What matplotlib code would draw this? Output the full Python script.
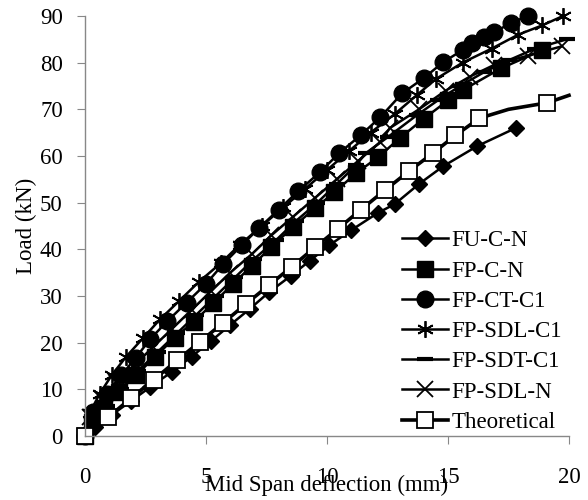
import matplotlib
matplotlib.use("Agg")
import matplotlib.pyplot as plt

# ---- data ----
fucn_x = [0, 0.4, 1.1, 1.9, 2.7, 3.6, 4.4, 5.2, 6.0, 6.8, 7.6, 8.5, 9.3, 10.1, 11.0, 12.1, 12.8, 13.8, 14.8, 16.2, 17.8]
fucn_y = [0, 2, 4.5, 7.5, 10.5, 13.8, 17, 20.3, 23.8, 27.2, 30.8, 34.3, 37.6, 40.9, 44.1, 47.8, 49.7, 54, 57.8, 62.1, 66]

fpcn_x = [0, 0.3, 0.8, 1.4, 2.1, 2.9, 3.7, 4.5, 5.3, 6.1, 6.9, 7.7, 8.6, 9.5, 10.3, 11.2, 12.1, 13.0, 14.0, 15.0, 15.6, 17.2, 18.9]
fpcn_y = [0, 3, 6, 9.5, 13, 17, 21, 24.5, 28.5, 32.5, 36.5, 40.5, 44.8, 48.8, 52.2, 56.3, 59.7, 63.8, 68, 71.9, 74.1, 78.8, 82.7]

fpct_x = [0, 0.35, 0.9, 1.5, 2.1, 2.7, 3.4, 4.2, 5.0, 5.7, 6.5, 7.2, 8.0, 8.8, 9.7, 10.5, 11.4, 12.2, 13.1, 14.0, 14.8, 15.6, 16.0, 16.5, 16.9, 17.6, 18.3]
fpct_y = [0, 5.2, 9.0, 13.0, 16.8, 20.8, 24.6, 28.6, 32.6, 36.8, 41.0, 44.6, 48.5, 52.4, 56.5, 60.6, 64.5, 68.3, 73.4, 76.7, 80.1, 82.7, 84.2, 85.4, 86.5, 88.5, 90.0]

sdlc1_x = [0, 0.2, 0.6, 1.1, 1.7, 2.4, 3.1, 3.9, 4.7, 5.6, 6.4, 7.3, 8.2, 9.1, 10.0, 10.9, 11.8, 12.8, 13.7, 14.5, 15.6, 16.8, 17.9, 18.9, 19.75]
sdlc1_y = [0, 5, 9, 13, 17, 21, 25, 29, 33, 37, 41, 45, 49, 53, 57, 61, 65, 69, 73, 76.5, 80, 83, 86, 88, 90]

sdtc1_x = [0, 0.3, 0.9, 1.5, 2.2, 3.0, 3.8, 4.6, 5.4, 6.2, 7.0, 7.9, 8.7, 9.6, 10.4, 11.2, 11.6, 12.5, 13.7, 14.6, 15.5, 16.5, 17.5, 18.6, 19.9]
sdtc1_y = [0, 3, 6.5, 10, 14, 18, 22, 26, 30, 34, 38, 42, 46, 50, 54, 58, 60.6, 64, 68.7, 72, 75, 78, 80.5, 83, 85]

sdln_x = [0, 0.2, 0.7, 1.3, 2.0, 2.8, 3.6, 4.4, 5.2, 6.0, 6.9, 7.7, 8.6, 9.5, 10.4, 11.3, 12.2, 12.6, 13.8, 14.9, 15.9, 16.9, 18.3, 19.7]
sdln_y = [0, 4, 8, 11.5, 15, 19, 23, 27, 31, 35, 39, 43, 47, 51, 55, 59, 63, 66, 70, 74, 77, 79.5, 81.5, 83.5]

theo_x = [0, 0.95, 1.9, 2.85, 3.8, 4.75, 5.7, 6.65, 7.6, 8.55, 9.5, 10.45, 11.4, 12.4, 13.4, 14.4, 15.3, 16.3, 17.5, 19.1, 20.0]
theo_y = [0, 4.0, 8.1, 12.1, 16.2, 20.2, 24.2, 28.3, 32.3, 36.3, 40.4, 44.4, 48.5, 52.7, 56.8, 60.7, 64.4, 68.1, 70.0, 71.4, 73.0]
theo_marks = [0, 1, 2, 3, 4, 5, 6, 7, 8, 9, 10, 11, 12, 13, 14, 15, 16, 17, 19]

xticks = [0, 5, 10, 15, 20]
yticks = [0, 10, 20, 30, 40, 50, 60, 70, 80, 90]

plt.rcParams['font.family'] = ['Liberation Serif', 'DejaVu Serif']

fig = plt.figure(figsize=(5.88, 5.0), dpi=100)
ax = fig.add_axes([0.1446, 0.128, 0.8231, 0.840])

lw = 1.8
ax.plot(fucn_x, fucn_y, color='black', lw=lw, marker='D', ms=8, label='FU-C-N')
ax.plot(fpcn_x, fpcn_y, color='black', lw=lw, marker='s', ms=11, label='FP-C-N')
ax.plot(fpct_x, fpct_y, color='black', lw=lw, marker='o', ms=12, label='FP-CT-C1')
ax.plot(sdlc1_x, sdlc1_y, color='black', lw=lw, marker=(6, 2, 0), ms=12, mew=1.3, label='FP-SDL-C1')
ax.plot(sdtc1_x, sdtc1_y, color='black', lw=lw, marker='_', ms=12, mew=3, label='FP-SDT-C1')
ax.plot(sdln_x, sdln_y, color='black', lw=lw, marker='x', ms=11, mew=1.3, label='FP-SDL-N')
ax.plot(theo_x, theo_y, color='black', lw=2.6, marker='s', ms=11, mfc='white', mec='black',
        mew=1.3, markevery=theo_marks, label='Theoretical')

ax.set_xlim(0, 20)
ax.set_ylim(0, 90)
ax.set_xticks(xticks)
ax.set_yticks(yticks)
for s in ['top', 'right']:
    ax.spines[s].set_visible(False)
for s in ['left', 'bottom']:
    ax.spines[s].set_color('#888888')
    ax.spines[s].set_linewidth(1.0)
ax.tick_params(axis='both', colors='#888888', labelcolor='black', labelsize=16.5, length=6, direction='out')
ax.tick_params(axis='x', pad=16)
ax.tick_params(axis='y', pad=10)
for ln in ax.lines:
    ln.set_clip_on(False)

ax.set_xlabel('Mid Span deflection (mm)', fontsize=16.5, labelpad=-9)
ax.set_ylabel('Load (kN)', fontsize=16.5, labelpad=2)

leg = ax.legend(loc='lower right', frameon=False, fontsize=16.5, handlelength=2.0,
                handletextpad=0.15, labelspacing=0.40, borderaxespad=0.0,
                bbox_to_anchor=(1.005, -0.014))

fig.savefig('out.png', dpi=100)
